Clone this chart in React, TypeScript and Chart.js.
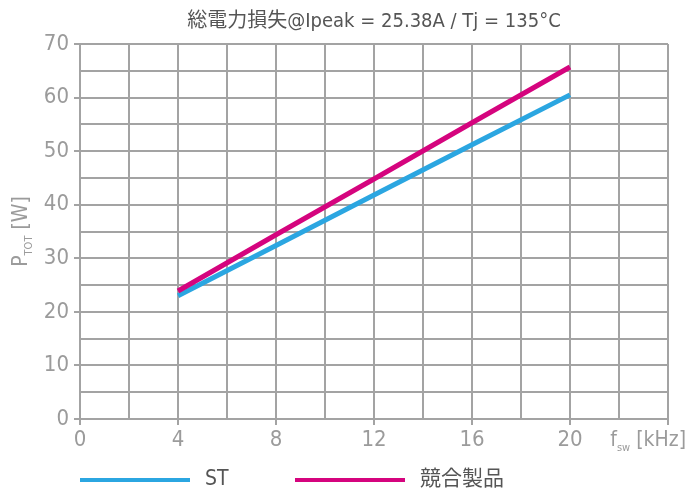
import React, { useEffect, useRef } from "react";
import { Chart, registerables, Plugin } from "chart.js";

Chart.register(...registerables);

const freqs = [4, 8, 12, 16, 20];
const stLoss = [23.0, 32.4, 41.8, 51.2, 60.5];
const rivalLoss = [23.9, 34.4, 44.8, 55.3, 65.7];
const seriesNames = ["ST", "競合製品"];
const titleText = "総電力損失@Ipeak = 25.38A / Tj = 135°C";

const FONT = "'Liberation Sans Narrow', 'DejaVu Sans Condensed', 'Noto Sans CJK JP', sans-serif";
const GRID = "#a3a3a3";
const TICK_TEXT = "#9b9b9b";
const DARK_TEXT = "#555555";
const BLUE = "#2ba6e1";
const MAGENTA = "#d5047e";

// draws title, axis titles with subscripts, and the legend row
const decorPlugin: Plugin = {
  id: "decor",
  afterDraw(chart) {
    const { ctx, chartArea } = chart;
    ctx.save();
    ctx.textBaseline = "middle";

    // title
    ctx.fillStyle = DARK_TEXT;
    ctx.font = `20px ${FONT}`;
    ctx.textAlign = "center";
    ctx.fillText(titleText, (chartArea.left + chartArea.right) / 2, 22);

    // text with subscript helper
    const drawSub = (main: string, sub: string, rest: string, x: number, y: number, align: "center" | "right") => {
      ctx.font = `21px ${FONT}`;
      const w1 = ctx.measureText(main).width;
      const w3 = ctx.measureText(rest).width;
      ctx.font = `11px ${FONT}`;
      const w2 = ctx.measureText(sub).width;
      const total = w1 + w2 + w3;
      let sx = align === "center" ? x - total / 2 : x - total;
      ctx.textAlign = "left";
      ctx.font = `21px ${FONT}`;
      ctx.fillText(main, sx, y);
      sx += w1;
      ctx.font = `11px ${FONT}`;
      ctx.fillText(sub, sx, y + 7);
      sx += w2;
      ctx.font = `21px ${FONT}`;
      ctx.fillText(rest, sx, y);
    };

    ctx.fillStyle = TICK_TEXT;
    // y axis title
    ctx.save();
    ctx.translate(22, (chartArea.top + chartArea.bottom) / 2);
    ctx.rotate(-Math.PI / 2);
    drawSub("P", "TOT", " [W]", 0, 0, "center");
    ctx.restore();

    // x axis title sits where the 24 label would be
    drawSub("f", "sw", " [kHz]", 686, 441, "right");

    // legend
    const colors = [BLUE, MAGENTA];
    const starts = [80, 295];
    chart.data.datasets.forEach((ds, i) => {
      const x0 = starts[i];
      ctx.strokeStyle = colors[i];
      ctx.lineWidth = 4;
      ctx.beginPath();
      ctx.moveTo(x0, 480);
      ctx.lineTo(x0 + 110, 480);
      ctx.stroke();
      ctx.fillStyle = DARK_TEXT;
      ctx.font = `21px ${FONT}`;
      ctx.textAlign = "left";
      ctx.fillText(String(ds.label), x0 + 125, 480);
    });

    ctx.restore();
  },
};

const App: React.FC = () => {
  const canvasRef = useRef<HTMLCanvasElement | null>(null);

  useEffect(() => {
    if (!canvasRef.current) return;
    const chart = new Chart(canvasRef.current, {
      type: "line",
      data: {
        datasets: [
          {
            label: seriesNames[0],
            data: freqs.map((f, i) => ({ x: f, y: stLoss[i] })),
            borderColor: BLUE,
            borderWidth: 5,
            pointRadius: 0,
            order: 1,
          },
          {
            label: seriesNames[1],
            data: freqs.map((f, i) => ({ x: f, y: rivalLoss[i] })),
            borderColor: MAGENTA,
            borderWidth: 5,
            pointRadius: 0,
            order: 0,
          },
        ],
      },
      options: {
        animation: false,
        responsive: true,
        maintainAspectRatio: false,
        layout: { padding: { top: 44, right: 20, bottom: 30, left: 0 } },
        plugins: {
          legend: { display: false },
          title: { display: false },
          tooltip: { enabled: false },
        },
        scales: {
          x: {
            type: "linear",
            min: 0,
            max: 24,
            afterFit: (scale) => {
              scale.height = 41;
            },
            ticks: {
              stepSize: 2,
              autoSkip: false,
              maxRotation: 0,
              padding: 2,
              color: TICK_TEXT,
              font: { family: FONT, size: 22 },
              callback: (v) => {
                const n = Number(v);
                return n % 4 === 0 && n < 24 ? String(n) : "";
              },
            },
            grid: {
              color: GRID,
              lineWidth: 2,
              tickLength: 6,
              tickColor: (c) => (Number(c.tick?.value) % 4 === 0 ? GRID : "rgba(0,0,0,0)"),
            },
            border: { color: GRID, width: 2 },
          },
          y: {
            min: 0,
            max: 70,
            afterFit: (scale) => {
              scale.width = 80;
            },
            ticks: {
              stepSize: 5,
              autoSkip: false,
              padding: 5,
              color: TICK_TEXT,
              font: { family: FONT, size: 22 },
              callback: (v) => {
                const n = Number(v);
                return n % 10 === 0 ? String(n) : "";
              },
            },
            grid: {
              color: GRID,
              lineWidth: 2,
              tickLength: 6,
              tickColor: (c) => (Number(c.tick?.value) % 10 === 0 ? GRID : "rgba(0,0,0,0)"),
            },
            border: { color: GRID, width: 2 },
          },
        },
      },
      plugins: [decorPlugin],
    });
    return () => chart.destroy();
  }, []);

  return (
    <div style={{ position: "absolute", left: 0, top: 0, width: 688, height: 490, background: "#fff" }}>
      <canvas ref={canvasRef} />
    </div>
  );
};

export default App;
